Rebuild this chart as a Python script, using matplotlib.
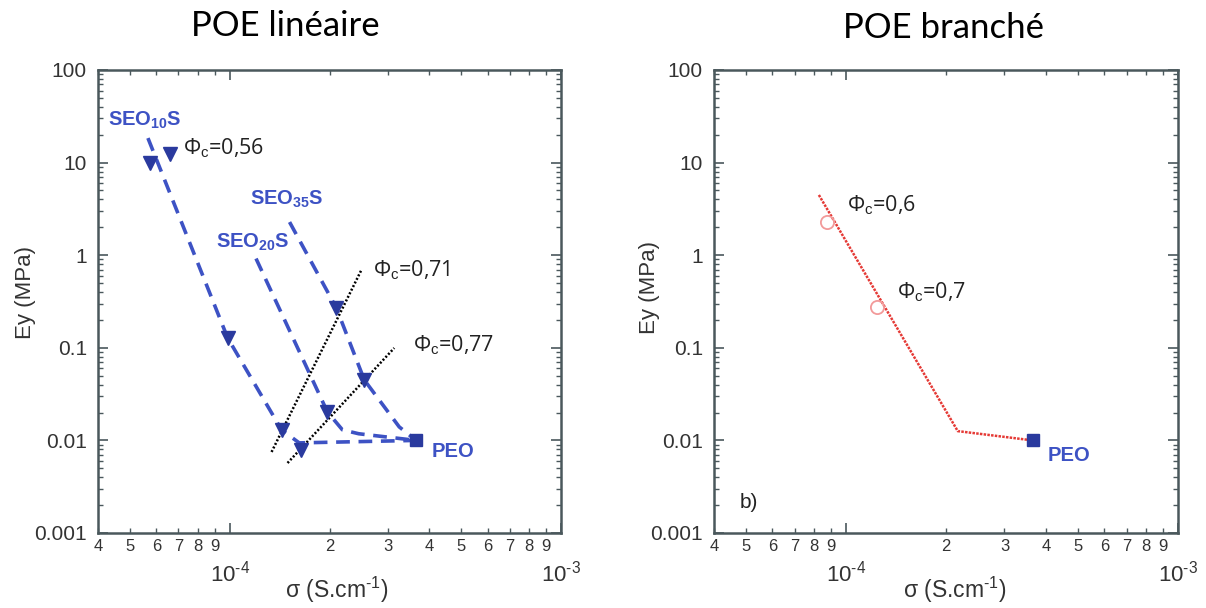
import matplotlib
matplotlib.use('Agg')
import matplotlib.pyplot as plt
from matplotlib.ticker import FixedLocator, FixedFormatter

plt.rcParams['font.family'] = ['Liberation Sans', 'DejaVu Sans']
plt.rcParams['mathtext.fontset'] = 'custom'
plt.rcParams['mathtext.rm'] = 'Liberation Sans'
plt.rcParams['mathtext.it'] = 'Liberation Sans:italic'
plt.rcParams['mathtext.bf'] = 'Liberation Sans:bold'

# ---------------- data ----------------
titles = ['POE linéaire', 'POE branché']
x_major = [1e-4, 1e-3]
x_major_labels = [r'$10^{\text{-}4}$', r'$10^{\text{-}3}$']
x_minor = [4e-5, 5e-5, 6e-5, 7e-5, 8e-5, 9e-5, 2e-4, 3e-4, 4e-4, 5e-4, 6e-4, 7e-4, 8e-4, 9e-4]
x_minor_labels = ['4', '5', '6', '7', '8', '9', '2', '3', '4', '5', '6', '7', '8', '9']
y_major = [1e-3, 1e-2, 1e-1, 1, 10, 100]
y_major_labels = ['0.001', '0.01', '0.1', '1', '10', '100']

# left panel: dashed series paths
seo10_sigma = [5.66e-5, 9.85e-5, 1.433e-4, 1.62e-4, 3.65e-4]
seo10_E = [18.4, 0.128, 0.013, 0.0094, 0.0100]
seo20_sigma = [1.2e-4, 1.971e-4, 2.188e-4, 2.45e-4, 3.65e-4]
seo20_E = [0.92, 0.0203, 0.0130, 0.0118, 0.0100]
seo35_sigma = [1.515e-4, 2.098e-4, 2.548e-4, 3.247e-4, 3.65e-4]
seo35_E = [2.28, 0.269, 0.0449, 0.0140, 0.0100]

# left panel: measured points (triangles)
tri_sigma = [5.74e-5, 6.59e-5, 9.85e-5, 1.433e-4, 1.646e-4, 1.971e-4, 2.098e-4, 2.548e-4]
tri_E = [9.9, 12.4, 0.128, 0.013, 0.0079, 0.0203, 0.269, 0.0449]

# iso-composition dotted lines
phi071_sigma = [1.337e-4, 2.495e-4]
phi071_E = [0.0075, 0.69]
phi077_sigma = [1.494e-4, 3.137e-4]
phi077_E = [0.0057, 0.0995]

# PEO reference
peo_sigma = [3.65e-4]
peo_E = [0.0100]

# right panel
branch_sigma = [8.28e-5, 2.17e-4, 3.65e-4]
branch_E = [4.47, 0.0126, 0.0100]
circ_sigma = [8.75e-5, 1.239e-4]
circ_E = [2.28, 0.276]

BLUE = '#3d52c4'
DBLUE = '#2a3a9e'
SPINE = '#4a585c'
TXT = '#333333'

W, H = 1206, 608
fig = plt.figure(figsize=(W / 100, H / 100), dpi=100)
fig.patch.set_facecolor('white')

def px(x):
    return x / W

def py(y):
    return 1 - y / H

axL = fig.add_axes([px(98), py(533), px(463), 463 / H])
axR = fig.add_axes([px(714), py(533), px(464), 463 / H])

for ax in (axL, axR):
    ax.set_xscale('log')
    ax.set_yscale('log')
    ax.set_xlim(4e-5, 1e-3)
    ax.set_ylim(1e-3, 100)
    ax.xaxis.set_major_locator(FixedLocator(x_major))
    ax.xaxis.set_major_formatter(FixedFormatter(x_major_labels))
    ax.xaxis.set_minor_locator(FixedLocator(x_minor))
    ax.xaxis.set_minor_formatter(FixedFormatter(x_minor_labels))
    ax.yaxis.set_major_locator(FixedLocator(y_major))
    ax.yaxis.set_major_formatter(FixedFormatter(y_major_labels))
    ax.yaxis.set_minor_locator(matplotlib.ticker.LogLocator(base=10, subs=range(2, 10), numticks=20))
    ax.yaxis.set_minor_formatter(matplotlib.ticker.NullFormatter())
    ax.tick_params(which='both', direction='in', top=True, right=True, color=SPINE,
                   labelcolor=TXT)
    ax.tick_params(which='major', length=7, width=1.2)
    ax.tick_params(which='minor', length=3.5, width=1.0)
    ax.tick_params(axis='x', which='major', pad=20, labelsize=16)
    ax.tick_params(axis='x', which='minor', pad=4, labelsize=12)
    ax.tick_params(axis='y', which='major', pad=8, labelsize=15)
    for s in ax.spines.values():
        s.set_color(SPINE)
        s.set_linewidth(1.8)

# ---------- left panel ----------
dash = dict(color=BLUE, lw=2.6, ls=(0, (3.8, 2.4)))
axL.plot(seo10_sigma, seo10_E, **dash)
axL.plot(seo20_sigma, seo20_E, **dash)
axL.plot(seo35_sigma, seo35_E, **dash)
axL.plot(phi071_sigma, phi071_E, color='black', lw=1.8, ls=(0, (0.8, 0.8)))
axL.plot(phi077_sigma, phi077_E, color='black', lw=1.8, ls=(0, (0.8, 0.8)))
axL.plot(tri_sigma, tri_E, ls='none', marker='v', ms=10, color=DBLUE)
axL.plot(peo_sigma, peo_E, ls='none', marker='s', ms=9, color=DBLUE)

blue_kw = dict(color=BLUE, fontsize=14.5, fontweight='bold', va='center', ha='left')
phi_kw = dict(color='#222222', fontsize=15.5, va='center', ha='left',
              family=['Open Sans', 'DejaVu Sans'])
axL.text(4.29e-5, 28.8, r'SEO$_{\mathbf{10}}$S', **blue_kw)
axL.text(1.148e-4, 4.05, r'SEO$_{\mathbf{35}}$S', **blue_kw)
axL.text(9.06e-5, 1.39, r'SEO$_{\mathbf{20}}$S', **blue_kw)
axL.text(4.06e-4, 0.0075, 'PEO', **blue_kw)
axL.text(7.21e-5, 14.4, r'Φ$_\mathrm{c}$=0,56', **phi_kw)
axL.text(2.71e-4, 0.69, r'Φ$_\mathrm{c}$=0,71', **phi_kw)
axL.text(3.58e-4, 0.107, r'Φ$_\mathrm{c}$=0,77', **phi_kw)

# ---------- right panel ----------
axR.plot(branch_sigma, branch_E, color='#e53935', lw=1.8, ls=(0, (1, 0.5)))
axR.plot(circ_sigma, circ_E, ls='none', marker='o', ms=9.5, mfc='none',
         mec='#f29a9a', mew=1.3)
axR.plot(peo_sigma, peo_E, ls='none', marker='s', ms=9, color=DBLUE)
axR.text(4.06e-4, 0.00695, 'PEO', **blue_kw)
axR.text(1.006e-4, 3.48, r'Φ$_\mathrm{c}$=0,6', **phi_kw)
axR.text(1.422e-4, 0.401, r'Φ$_\mathrm{c}$=0,7', **phi_kw)
axR.text(0.056, 0.065, 'b)', transform=axR.transAxes, fontsize=15, color='#222222',
         va='center', ha='left')

# ---------- titles and axis labels ----------
title_kw = dict(fontsize=25, color='black', ha='center', va='center',
                family=['Lato', 'DejaVu Sans'])
fig.text(px(285), py(26), titles[0], **title_kw)
fig.text(px(943), py(28), titles[1], **title_kw)

ylab_kw = dict(fontsize=16, color=TXT, rotation=90, ha='center', va='center')
fig.text(px(25), py(293), 'Ey (MPa)', **ylab_kw)
fig.text(px(650), py(288), 'Ey (MPa)', **ylab_kw)

xlab_kw = dict(fontsize=16.5, color=TXT, ha='center', va='center')
fig.text(px(337), py(590), r'σ (S.cm$^{\text{-}1}$)', **xlab_kw)
fig.text(px(955), py(590), r'σ (S.cm$^{\text{-}1}$)', **xlab_kw)

fig.savefig('out.png', dpi=100, facecolor='white')
